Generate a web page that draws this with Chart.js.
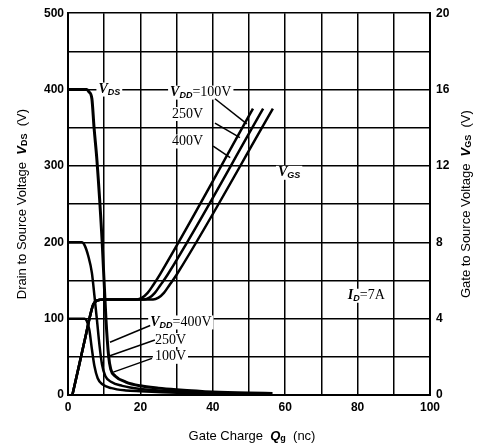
<!DOCTYPE html>
<html>
<head>
<meta charset="utf-8">
<script src="https://cdn.jsdelivr.net/npm/chart.js@4.4.0/dist/chart.umd.min.js"></script>
<style>
  html, body { margin: 0; padding: 0; background: #fff; }
  #wrap { width: 485px; height: 447px; }
</style>
</head>
<body>
<div id="wrap"><canvas id="chart"></canvas></div>
<script>
// Drain-source voltage vs gate charge, [Qg (nC), VDS (V)]
const vds400 = [[0, 400], [5.2, 400], [5.8, 397], [6.6, 388], [7.2, 350], [8.0, 307], [9.4, 204], [10.5, 98], [11.2, 52], [11.8, 34], [13, 25], [16, 17], [20, 12], [25, 9], [30, 7], [40, 4], [50, 2.5], [56.5, 2]];
const vds250 = [[0, 200], [3.8, 200], [4.6, 196], [5.6, 182], [6.6, 160], [7.3, 130], [8.0, 98], [8.7, 65], [9.4, 40], [10.3, 25], [12, 17], [15, 12], [20, 8], [30, 5], [40, 3], [50, 2], [56, 1.5]];
const vds100 = [[0, 100], [4.6, 100], [5.2, 97], [5.9, 85], [6.6, 60], [7.3, 38], [8.2, 22], [9.5, 14], [12, 9], [16, 6], [20, 5], [30, 3], [40, 2], [56, 1]];

// Gate-source voltage vs gate charge, [Qg (nC), VGS (V)]
const vgs100 = [[1.2, 0], [3, 1.5], [5, 3.2], [6.3, 4.3], [7, 4.75], [8, 4.95], [10, 5.0], [19, 5.0], [20.5, 5.1], [22, 5.35], [23.5, 5.75], [25.5, 6.35], [51.1, 15.0]];
const vgs250 = [[1.2, 0], [3, 1.5], [5, 3.2], [6.3, 4.3], [7, 4.75], [8, 4.95], [10, 5.0], [21, 5.0], [22.5, 5.1], [24, 5.35], [25.5, 5.75], [27.5, 6.3], [53.9, 15.0]];
const vgs400 = [[1.2, 0], [3, 1.5], [5, 3.2], [6.3, 4.3], [7, 4.75], [8, 4.95], [10, 5.0], [23.5, 5.0], [25, 5.1], [26.5, 5.35], [28, 5.75], [30, 6.3], [56.6, 15.0]];

// Leader lines from labels to curves, [Qg, VDS]
const leaders = [
    [[40.6, 388], [49.4, 355]],
    [[40.6, 356], [47.5, 337]],
    [[40.1, 326], [44.8, 311]],
    [[22.7, 91], [11.6, 69]],
    [[24.0, 72], [10.8, 50]],
    [[23.2, 48], [12.5, 30]]
];

// Axis ranges
const xTicks = [0, 100, 10];
const yTicks = [0, 500, 50];
const y2Ticks = [0, 20, 4];

// In-plot labels: anchor in data units, then text parts
const notes = [
    { at: [8.4, 400], parts: [['V', 'iv'], ['DS', 'sub']] },
    { at: [28.2, 396], parts: [['V', 'iv'], ['DD', 'sub'], ['=100V', 'rm']] },
    { at: [28.7, 368], parts: [['250V', 'rm']] },
    { at: [28.7, 332], parts: [['400V', 'rm']] },
    { at: [58.0, 291], parts: [['V', 'iv'], ['GS', 'sub']] },
    { at: [77.3, 130], parts: [['I', 'iv'], ['D', 'sub'], ['=7A', 'rm']] },
    { at: [22.7, 95], parts: [['V', 'iv'], ['DD', 'sub'], ['=400V', 'rm']] },
    { at: [24.0, 72], parts: [['250V', 'rm']] },
    { at: [24.0, 50], parts: [['100V', 'rm']] }
];

const FONTS = {
    iv: 'italic bold 14px "Liberation Serif"',
    sub: 'italic bold 9px "Liberation Sans"',
    rm: '14px "Liberation Serif"',
    ax: '13px "Liberation Sans"',
    axi: 'italic bold 13px "Liberation Sans"',
    axsub: 'bold 9px "Liberation Sans"'
};

function richWidth(ctx, parts) {
    let w = 0;
    parts.forEach(p => {
        ctx.font = FONTS[p[1]];
        w += ctx.measureText(p[0]).width;
    });
    return w;
}

function drawRich(ctx, parts, x, y, bg) {
    const w = richWidth(ctx, parts);
    if (bg) {
        ctx.fillStyle = '#fff';
        ctx.fillRect(x - 2, y - 7, w + 4, 14);
    }
    ctx.fillStyle = '#000';
    ctx.textBaseline = 'middle';
    ctx.textAlign = 'left';
    let cx = x;
    parts.forEach(p => {
        ctx.font = FONTS[p[1]];
        const dy = (p[1] === 'sub' || p[1] === 'axsub') ? 3 : 0;
        ctx.fillText(p[0], cx, y + dy);
        cx += ctx.measureText(p[0]).width;
    });
}

const toXY = arr => arr.map(([x, y]) => ({ x, y }));

// Draw in-plot labels and axis titles
const labelPlugin = {
    id: 'labels',
    beforeDatasetsDraw(chart) {
        const { ctx, scales } = chart;
        ctx.save();
        notes.forEach(n => {
            const px = scales.x.getPixelForValue(n.at[0]);
            const py = scales.y.getPixelForValue(n.at[1]);
            drawRich(ctx, n.parts, px, py, true);
        });
        ctx.restore();
    },
    afterDraw(chart) {
        const { ctx, chartArea } = chart;
        const midY = (chartArea.top + chartArea.bottom) / 2;
        const left = [['Drain to Source Voltage  ', 'ax'], ['V', 'axi'], ['DS', 'axsub'], ['  (V)', 'ax']];
        const right = [['Gate to Source Voltage  ', 'ax'], ['V', 'axi'], ['GS', 'axsub'], ['  (V)', 'ax']];
        const bottom = [['Gate Charge  ', 'ax'], ['Q', 'axi'], ['g', 'axsub'], ['  (nc)', 'ax']];
        ctx.save();
        [[left, 22], [right, 466]].forEach(([parts, x]) => {
            ctx.save();
            ctx.translate(x, midY);
            ctx.rotate(-Math.PI / 2);
            drawRich(ctx, parts, -richWidth(ctx, parts) / 2, 0, false);
            ctx.restore();
        });
        const midX = (chartArea.left + chartArea.right) / 2 + 3;
        drawRich(ctx, bottom, midX - richWidth(ctx, bottom) / 2, 436, false);
        ctx.restore();
    }
};

function curve(data, axis, width) {
    return {
        data: toXY(data),
        yAxisID: axis,
        showLine: true,
        borderColor: '#000',
        borderWidth: width,
        pointRadius: 0,
        cubicInterpolationMode: 'monotone'
    };
}

const datasets = [
    curve(vds400, 'y', 3),
    curve(vds250, 'y', 2.5),
    curve(vds100, 'y', 2.5),
    curve(vgs100, 'y2', 2.5),
    curve(vgs250, 'y2', 2.5),
    curve(vgs400, 'y2', 2.5)
];
leaders.forEach(l => {
    datasets.push({
        data: toXY(l),
        yAxisID: 'y',
        showLine: true,
        borderColor: '#000',
        borderWidth: 1.5,
        pointRadius: 0
    });
});

const tickFont = { family: '"Liberation Sans"', size: 12, weight: 'bold' };

new Chart(document.getElementById('chart'), {
    type: 'scatter',
    data: { datasets },
    options: {
        responsive: true,
        maintainAspectRatio: false,
        animation: false,
        layout: { padding: { top: 12, left: 0, right: 0, bottom: 0 } },
        plugins: {
            legend: { display: false },
            tooltip: { enabled: false }
        },
        scales: {
            x: {
                type: 'linear',
                min: xTicks[0],
                max: xTicks[1],
                afterFit: s => { s.height = 52; },
                grid: { color: '#000', lineWidth: 1.5, drawTicks: false },
                border: { color: '#000', width: 2 },
                ticks: {
                    stepSize: xTicks[2],
                    padding: 5,
                    color: '#000',
                    font: tickFont,
                    maxRotation: 0,
                    autoSkip: false,
                    callback: v => (v % 20 === 0 ? v : '')
                }
            },
            y: {
                type: 'linear',
                position: 'left',
                min: yTicks[0],
                max: yTicks[1],
                afterFit: s => { s.width = 68; },
                grid: { color: '#000', lineWidth: 1.5, drawTicks: false },
                border: { color: '#000', width: 2 },
                ticks: {
                    stepSize: yTicks[2],
                    padding: 4,
                    color: '#000',
                    font: tickFont,
                    autoSkip: false,
                    callback: v => (v % 100 === 0 ? v : '')
                }
            },
            y2: {
                type: 'linear',
                position: 'right',
                min: y2Ticks[0],
                max: y2Ticks[1],
                afterFit: s => { s.width = 55; },
                grid: { display: false, drawTicks: false },
                border: { color: '#000', width: 2 },
                ticks: {
                    stepSize: y2Ticks[2],
                    padding: 6,
                    color: '#000',
                    font: tickFont
                }
            }
        }
    },
    plugins: [labelPlugin]
});
</script>
</body>
</html>
